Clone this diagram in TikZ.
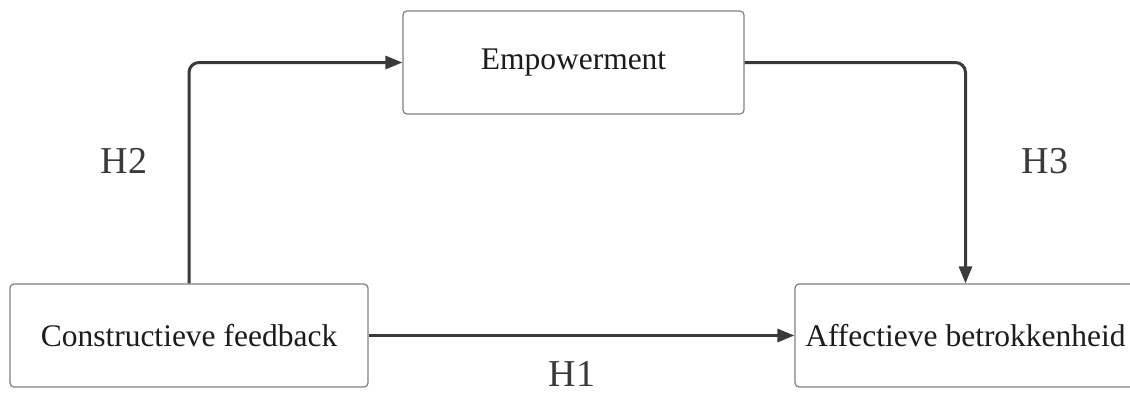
\documentclass[tikz,border=0pt]{standalone}
\usepackage{fontspec}
\setmainfont{Liberation Serif}
\usetikzlibrary{arrows.meta}
\definecolor{linegray}{HTML}{3A3A3A}
\definecolor{boxgray}{HTML}{7F7F7F}
\definecolor{textgray}{HTML}{1C1C1C}

\begin{document}
\begin{tikzpicture}
[x=1pt,y=-1pt,%
  box/.style={draw=boxgray,line width=1.2pt,rounded corners=4pt,minimum width=341pt,minimum height=103pt,inner sep=0pt,text=textgray,font=\fontsize{31.5}{36}\selectfont},%
  hyp/.style={anchor=base,inner sep=0pt,text=linegray,font=\fontsize{38}{44}\selectfont},%
  link/.style={-{Triangle[length=17pt,width=13pt]},line width=3pt,draw=linegray,rounded corners=10pt}]
\clip (0,0) rectangle (1130,394);
\node[box] (emp) at (573.5,62.5) {Empowerment};
\node[box,minimum width=358pt] (cf) at (189,335.5) {Constructieve feedback};
\node[box] (ab) at (965.5,335.5) {Affectieve betrokkenheid};
\node[hyp] (h2) at (124,173) {H2};
\node[hyp] (h3) at (1045,173) {H3};
\node[hyp] (h1) at (572,386) {H1};
\draw[link] (cf.north) |- (emp.west);
\draw[link] (emp.east) -| (ab.north);
\draw[link] (cf.east) -- (ab.west);
\end{tikzpicture}
\end{document}
